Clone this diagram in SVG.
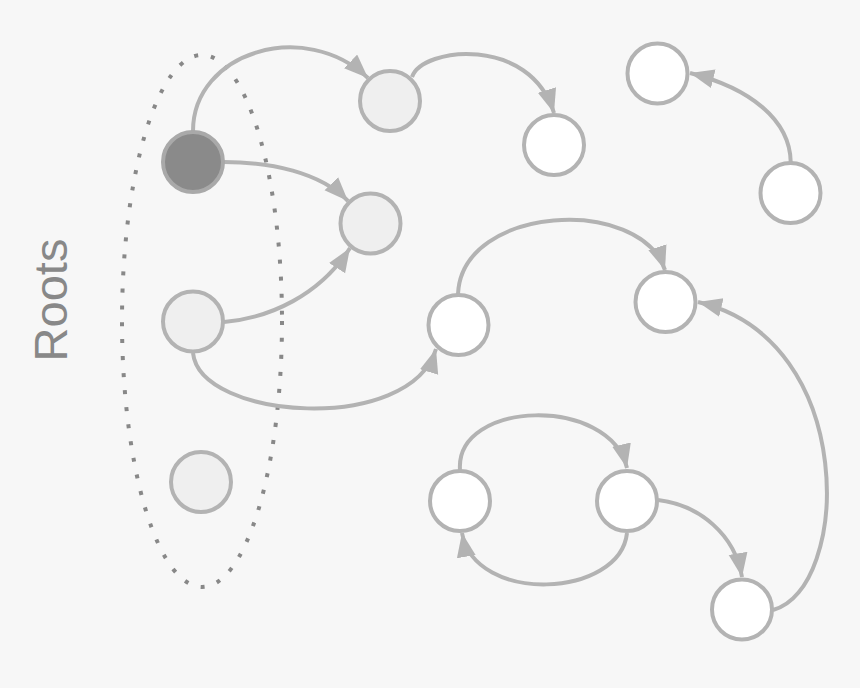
<svg xmlns="http://www.w3.org/2000/svg" width="860" height="688" viewBox="0 0 860 688">
<style>
.edge{fill:none;stroke:#b3b3b3;stroke-width:4;marker-end:url(#arr)}
.node{stroke:#b3b3b3;stroke-width:4}
.light{fill:#efefef}
.white{fill:#ffffff}
.dark{fill:#8a8a8a;stroke:#a9a9a9}
.roots{font-family:"Liberation Sans",Arial,sans-serif;font-size:47px;fill:#888888}
</style>
<defs>
<marker id="arr" markerUnits="userSpaceOnUse" markerWidth="26" markerHeight="20" refX="24" refY="9.5" orient="auto">
<path d="M0,0 L24,9.5 L0,19 z" fill="#b3b3b3"/>
</marker>
</defs>
<rect width="860" height="688" fill="#f7f7f7"/>
<text class="roots" transform="translate(67,300) rotate(-90)" text-anchor="middle">Roots</text>
<ellipse id="roots-group" cx="202" cy="321" rx="80" ry="266" fill="none" stroke="#888888" stroke-width="4" stroke-dasharray="4 13"/>
<g id="connectors">
<path class="edge" d="M193,131 C193,52 305,18 368,78"/>
<path class="edge" d="M224,162 C270,162 320,172 348,201"/>
<path class="edge" d="M224,322 C270,318 320,295 350,248"/>
<path class="edge" d="M412,77 C422,47 530,35 554,113"/>
<path class="edge" d="M193,353 C200,420 410,435 436,349"/>
<path class="edge" d="M458,294 C462,205 640,195 665,270"/>
<path class="edge" d="M790.7,162 C790,120 750,88 690,73"/>
<path class="edge" d="M773,610 C850,590 860,340 698,302"/>
<path class="edge" d="M460,470 C455,400 610,395 627,468"/>
<path class="edge" d="M627,533 C620,598 475,605 462,533"/>
<path class="edge" d="M658,500 C700,505 735,535 742,577"/>
</g>
<g id="nA"><circle class="node dark" cx="193" cy="162" r="30"/></g>
<g id="nB"><circle class="node light" cx="390" cy="101" r="30"/></g>
<g id="nC"><circle class="node white" cx="554" cy="145" r="30"/></g>
<g id="nD"><circle class="node light" cx="370.5" cy="223.5" r="30"/></g>
<g id="nE"><circle class="node light" cx="193" cy="321.5" r="30"/></g>
<g id="nF"><circle class="node white" cx="458.5" cy="325" r="30"/></g>
<g id="nG"><circle class="node white" cx="665.5" cy="302" r="30"/></g>
<g id="nH"><circle class="node light" cx="201" cy="482" r="30"/></g>
<g id="nI"><circle class="node white" cx="657.5" cy="73.5" r="30"/></g>
<g id="nJ"><circle class="node white" cx="790.5" cy="193" r="30"/></g>
<g id="nK"><circle class="node white" cx="460" cy="501" r="30"/></g>
<g id="nL"><circle class="node white" cx="627" cy="501" r="30"/></g>
<g id="nM"><circle class="node white" cx="742" cy="609.5" r="30"/></g>
</svg>
